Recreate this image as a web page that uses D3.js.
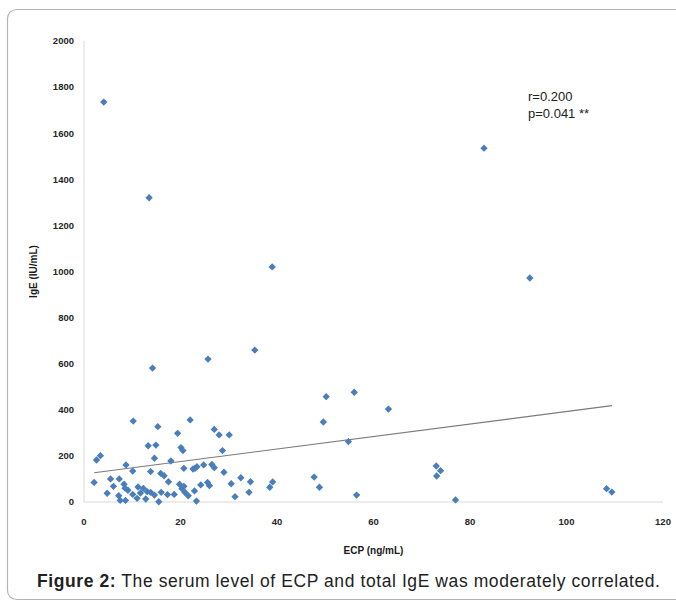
<!DOCTYPE html>
<html>
<head>
<meta charset="utf-8">
<script src="https://cdn.jsdelivr.net/npm/d3@7"></script>
<style>
    body { margin: 0; background: #fff; }
    svg { display: block; }
    .tick_lbl { font-family: "Liberation Sans", Arial, sans-serif; font-size: 9.5px; font-weight: bold; fill: #262626; }
    .axis_title { font-family: "Liberation Sans", Arial, sans-serif; font-size: 10px; font-weight: bold; fill: #1a1a1a; }
    .annot { font-family: "Liberation Sans", Arial, sans-serif; font-size: 13px; fill: #222; }
    .caption { font-family: "Liberation Sans", Arial, sans-serif; font-size: 17.5px; fill: #222; }
</style>
</head>
<body>
<svg id="chart" width="676" height="602"></svg>
<script>

// ECP (ng/mL) vs total IgE (IU/mL)
const ecp = [
    2.1, 2.6, 3.4, 4.1, 4.8, 5.5, 6.1, 7.2, 7.3, 7.5,
    8.3, 8.5, 8.6, 8.7, 9.1, 10.1, 10.1, 10.2, 11.0, 11.2,
    11.7, 12.3, 12.8, 13.1, 13.3, 13.5, 13.8, 13.8, 14.2, 14.6,
    14.6, 14.9, 15.3, 15.5, 15.9, 16.0, 16.6, 17.3, 17.5, 18.0,
    18.7, 19.4, 19.8, 20.1, 20.3, 20.5, 20.7, 20.7, 20.9, 21.6,
    22.0, 22.6, 22.9, 23.0, 23.3, 23.4, 24.2, 24.8, 25.6, 25.7,
    26.0, 26.5, 27.0, 27.0, 28.0, 28.7, 29.0, 30.1, 30.5, 31.3,
    32.5, 34.2, 34.5, 35.4, 38.5, 39.0, 39.1, 47.7, 48.8, 49.6,
    50.2, 54.8, 56.0, 56.5, 63.1, 73.0, 73.9, 73.1, 77.0, 82.9,
    92.4, 108.3, 109.4
];
const ige = [
    85, 182, 201, 1735, 38, 100, 68, 27, 100, 7,
    77, 60, 7, 161, 51, 134, 33, 351, 16, 65,
    39, 59, 13, 45, 244, 1320, 132, 42, 581, 190,
    30, 247, 327, 1, 124, 42, 114, 32, 88, 178,
    33, 298, 77, 236, 58, 223, 146, 68, 42, 27,
    356, 143, 48, 146, 4, 153, 74, 161, 85, 620,
    71, 163, 315, 149, 291, 223, 129, 291, 79, 23,
    105, 42, 88, 659, 64, 1020, 87, 108, 64, 347,
    457, 262, 476, 30, 403, 156, 136, 113, 9, 1535,
    972, 58, 43
];

// linear trendline end points as drawn in the figure
const trend_ecp = [2.1, 109.4];
const trend_ige = [127, 418];

const x_ticks = [0, 20, 40, 60, 80, 100, 120];
const y_ticks = [0, 200, 400, 600, 800, 1000, 1200, 1400, 1600, 1800, 2000];

const annot_lines = ['r=0.200', 'p=0.041 **'];

let svg = d3.select('#chart');

// outer frame (rounded, runs off the right edge)
svg.append('rect')
    .attr('x', 7.5).attr('y', 9.5)
    .attr('width', 720).attr('height', 590)
    .attr('rx', 9)
    .style('fill', 'none')
    .style('stroke', '#b4b4b4')
    .style('stroke-width', 1.2);

let x = d3.scaleLinear().domain([0, 120]).range([84, 663]);
let y = d3.scaleLinear().domain([0, 2000]).range([502, 41]);

// axis lines
let g_axes = svg.append('g');
g_axes.append('line')
    .attr('x1', x(0)).attr('x2', x(0))
    .attr('y1', y(2000)).attr('y2', y(0))
    .style('stroke', '#d9d9d9').style('stroke-width', 1);
g_axes.append('line')
    .attr('x1', x(0)).attr('x2', x(120))
    .attr('y1', y(0)).attr('y2', y(0))
    .style('stroke', '#d9d9d9').style('stroke-width', 1);

// tick labels
svg.append('g').selectAll('text')
    .data(y_ticks)
    .join('text')
        .attr('class', 'tick_lbl')
        .attr('x', 74)
        .attr('y', d => y(d))
        .attr('dy', '0.35em')
        .attr('text-anchor', 'end')
        .text(d => d);

svg.append('g').selectAll('text')
    .data(x_ticks)
    .join('text')
        .attr('class', 'tick_lbl')
        .attr('x', d => x(d))
        .attr('y', 522)
        .attr('dy', '0.35em')
        .attr('text-anchor', 'middle')
        .text(d => d);

// axis titles
svg.append('text')
    .attr('class', 'axis_title')
    .attr('transform', 'translate(33,' + y(1000) + ') rotate(-90)')
    .attr('text-anchor', 'middle')
    .attr('dy', '0.35em')
    .text('IgE (IU/mL)');

svg.append('text')
    .attr('class', 'axis_title')
    .attr('x', x(60))
    .attr('y', 550)
    .attr('dy', '0.35em')
    .attr('text-anchor', 'middle')
    .text('ECP (ng/mL)');

// trendline
svg.append('line')
    .attr('x1', x(trend_ecp[0])).attr('y1', y(trend_ige[0]))
    .attr('x2', x(trend_ecp[1])).attr('y2', y(trend_ige[1]))
    .style('stroke', '#7a7a7a')
    .style('stroke-width', 1.1);

// diamond markers
let pts = ecp.map((v, i) => ({ecp: v, ige: ige[i]}));
let diamond = d3.symbol().type(d3.symbolSquare).size(27);
svg.append('g').selectAll('path')
    .data(pts)
    .join('path')
        .attr('d', diamond)
        .attr('transform', d => 'translate(' + x(d.ecp) + ',' + y(d.ige) + ') rotate(45)')
        .style('fill', '#4a7ebb');

// r / p annotation
svg.append('g').selectAll('text')
    .data(annot_lines)
    .join('text')
        .attr('class', 'annot')
        .attr('x', 528)
        .attr('y', (d, i) => 96 + i * 17)
        .attr('dy', '0.35em')
        .text(d => d);

// figure caption, stretched to the width it has in the original
let cap = svg.append('text')
    .attr('class', 'caption')
    .attr('x', 37)
    .attr('y', 581)
    .attr('dy', '0.35em')
    .attr('textLength', 623)
    .attr('lengthAdjust', 'spacing');
cap.append('tspan').style('font-weight', 'bold').text('Figure 2:');
cap.append('tspan').text(' The serum level of ECP and total IgE was moderately correlated.');

</script>
</body>
</html>
